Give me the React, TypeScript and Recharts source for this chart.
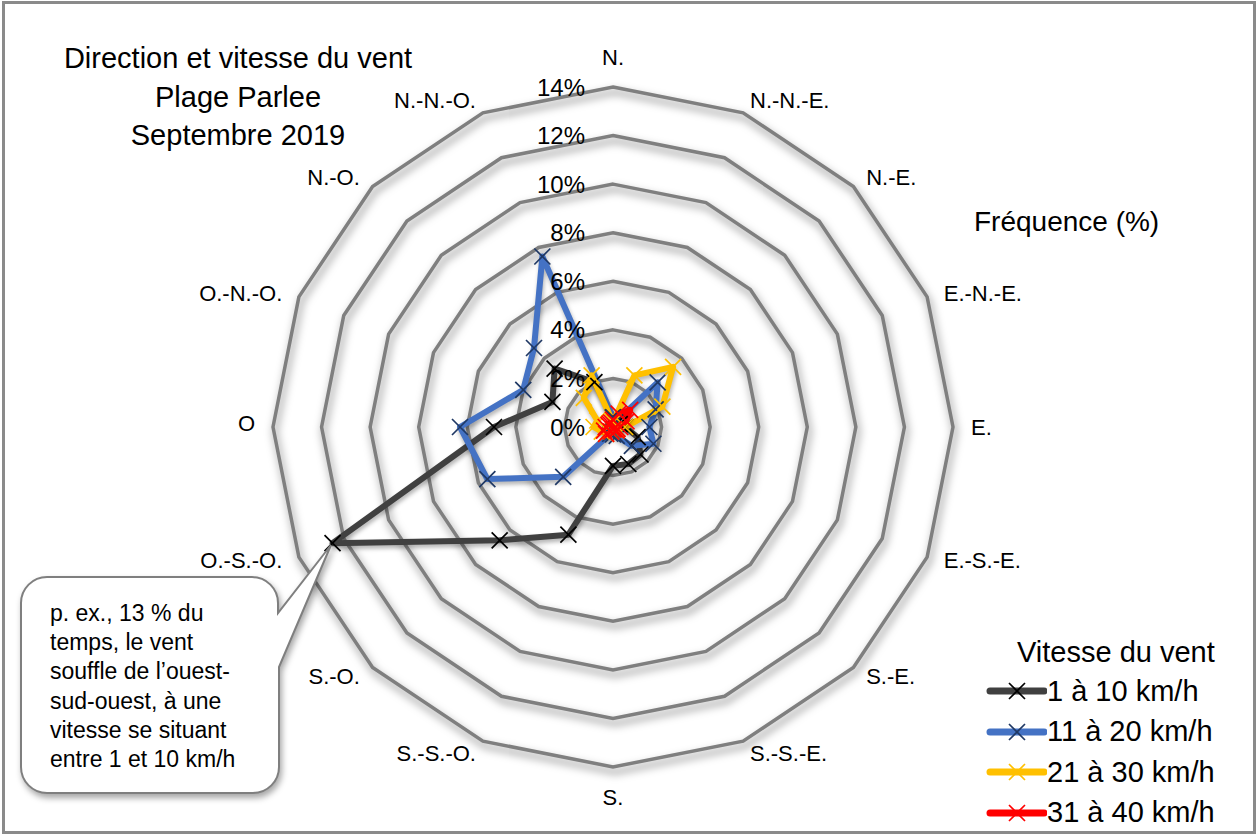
import React from 'react';
import { RadarChart, Radar, PolarGrid, PolarAngleAxis, PolarRadiusAxis, Legend } from 'recharts';

// wind directions, clockwise from north
const directions = ['N.', 'N.-N.-E.', 'N.-E.', 'E.-N.-E.', 'E.', 'E.-S.-E.', 'S.-E.', 'S.-S.-E.', 'S.', 'S.-S.-O.', 'S.-O.', 'O.-S.-O.', 'O', 'O.-N.-O.', 'N.-O.', 'N.-N.-O.'];

// frequency (%) per speed class
const speed1to10 = [0.4, 0.2, 0.2, 0.3, 0.5, 1.1, 1.6, 1.65, 1.6, 4.8, 6.6, 12.5, 4.9, 2.7, 3.4, 2.0];
const speed11to20 = [0.4, 0.2, 2.6, 1.9, 1.5, 1.8, 1.1, 0.4, 0.3, 0.3, 2.9, 5.6, 6.3, 4.0, 4.6, 7.6];
const speed21to30 = [0.2, 2.3, 3.5, 2.2, 0.5, 0.2, 0.2, 0.1, 0.1, 0.2, 0.4, 0.5, 0.8, 0.7, 1.7, 2.3];
const speed31to40 = [0.3, 0.6, 1.0, 0.6, 0.3, 0.2, 0.2, 0.1, 0.1, 0.2, 0.4, 0.4, 0.3, 0.2, 0.2, 0.2];

const radiusTicks = [0, 2, 4, 6, 8, 10, 12, 14];

const series = [
  { key: 's1', name: '1 à 10 km/h', line: '#404040', mark: '#000000' },
  { key: 's2', name: '11 à 20 km/h', line: '#4472c4', mark: '#1f3864' },
  { key: 's3', name: '21 à 30 km/h', line: '#ffc000', mark: '#ffc000' },
  { key: 's4', name: '31 à 40 km/h', line: '#ff0000', mark: '#ff0000' },
];

const data = directions.map((dir, i) => ({
  dir,
  s1: speed1to10[i],
  s2: speed11to20[i],
  s3: speed21to30[i],
  s4: speed31to40[i],
}));

const W = 1259;
const H = 836;
const CX = 613;
const CY = 427;
const R = 340;
const FONT = '"Liberation Sans", Arial, sans-serif';

const crossDot = (color: string) => (props: any) => {
  const { cx, cy, index } = props;
  const s = 8;
  return (
    <path
      key={`x-${index}`}
      d={`M${cx - s},${cy - s}L${cx + s},${cy + s}M${cx - s},${cy + s}L${cx + s},${cy - s}`}
      stroke={color}
      strokeWidth={1.7}
      fill="none"
    />
  );
};

const AngleTick = (props: any) => {
  const { x, y, payload } = props;
  const dx = x - CX;
  const dy = y - CY;
  const len = Math.hypot(dx, dy) || 1;
  const ux = dx / len;
  const uy = dy / len;
  const vertical = Math.abs(ux) < 0.05;
  const d = vertical ? 30 : 18;
  const px = CX + ux * (R + d);
  let py = CY + uy * (R + d);
  if (!vertical) py -= Math.sign(uy) * 4;
  const anchor = vertical ? 'middle' : ux > 0 ? 'start' : 'end';
  return (
    <text x={px} y={py} textAnchor={anchor} dominantBaseline="central" fontSize={22} fontFamily={FONT} fill="#000">
      {payload.value}
    </text>
  );
};

const RadiusTick = (props: any) => {
  const { x, y, payload } = props;
  return (
    <text x={x - 28} y={y} textAnchor="end" dominantBaseline="central" fontSize={24} fontFamily={FONT} fill="#000">
      {`${payload.value}%`}
    </text>
  );
};

const renderLegend = () => (
  <div style={{ fontFamily: FONT, color: '#000' }}>
    <div style={{ fontSize: 29, lineHeight: '34px', marginLeft: 32, marginBottom: 2 }}>Vitesse du vent</div>
    {series.map((s) => (
      <div key={s.key} style={{ display: 'flex', alignItems: 'center', height: 40.5 }}>
        <svg width={62} height={20}>
          <line x1={5} y1={10} x2={59} y2={10} stroke={s.line} strokeWidth={7} strokeLinecap="round" />
          <path d="M24,2L40,18M24,18L40,2" stroke={s.mark} strokeWidth={1.7} />
        </svg>
        <span style={{ fontSize: 29, marginLeft: 0 }}>{s.name}</span>
      </div>
    ))}
  </div>
);

export default function App() {
  return (
    <div style={{ position: 'absolute', left: 0, top: 0, width: W, height: H, background: '#fff' }}>
      <style>{`
        body { margin: 0; }
        .recharts-polar-grid-concentric path, .recharts-polar-grid-concentric polygon { filter: drop-shadow(2px 5px 4px rgba(0,0,0,0.5)); }
        .recharts-radar-polygon path { filter: drop-shadow(1px 3px 2px rgba(0,0,0,0.3)); }
      `}</style>
      <div
        style={{
          position: 'absolute', left: 2, top: 1, width: W - 5, height: H - 3,
          boxSizing: 'border-box', border: '3px solid #8a8a8a',
        }}
      />
      <RadarChart width={W} height={H} data={data} cx={CX} cy={CY} outerRadius={R} margin={{ top: 0, right: 0, bottom: 0, left: 0 }}>
        <PolarGrid gridType="polygon" radialLines={false} stroke="#7f7f7f" strokeWidth={3.5} />
        <PolarAngleAxis dataKey="dir" axisLine={false} tickLine={false} tick={AngleTick} />
        <PolarRadiusAxis angle={90} domain={[0, 14]} ticks={radiusTicks} tickCount={8} axisLine={false} tickLine={false} tick={RadiusTick} />
        {series.map((s) => (
          <Radar
            key={s.key}
            dataKey={s.key}
            name={s.name}
            stroke={s.line}
            strokeWidth={6}
            strokeLinejoin="round"
            fill="none"
            fillOpacity={0}
            dot={crossDot(s.mark)}
            isAnimationActive={false}
          />
        ))}
        <Legend
          content={renderLegend}
          layout="vertical"
          wrapperStyle={{ position: 'absolute', left: 985, top: 635, width: 274 }}
        />
      </RadarChart>

      <div style={{ position: 'absolute', left: 38, top: 39, width: 400, textAlign: 'center', fontFamily: FONT, fontSize: 29, lineHeight: '38.5px' }}>
        Direction et vitesse du vent<br />Plage Parlee<br />Septembre 2019
      </div>
      <div style={{ position: 'absolute', left: 974, top: 203, fontFamily: FONT, fontSize: 28, lineHeight: '38px' }}>
        Fréquence (%)
      </div>

      <svg width={W} height={H} style={{ position: 'absolute', left: 0, top: 0, pointerEvents: 'none' }}>
        <path
          d="M47,577 H252 A26,26 0 0 1 278,603 V613 L331,545 L279,667 V767 A26,26 0 0 1 253,793 H47 A26,26 0 0 1 21,767 V603 A26,26 0 0 1 47,577 Z"
          fill="#fff"
          stroke="#7f7f7f"
          strokeWidth={2}
          style={{ filter: 'drop-shadow(2px 4px 3px rgba(0,0,0,0.35))' }}
        />
      </svg>
      <div style={{ position: 'absolute', left: 50, top: 599, fontFamily: FONT, fontSize: 23, lineHeight: '29.2px', color: '#000' }}>
        p. ex., 13 % du<br />temps, le vent<br />souffle de l’ouest-<br />sud-ouest, à une<br />vitesse se situant<br />entre 1 et 10 km/h
      </div>
    </div>
  );
}
